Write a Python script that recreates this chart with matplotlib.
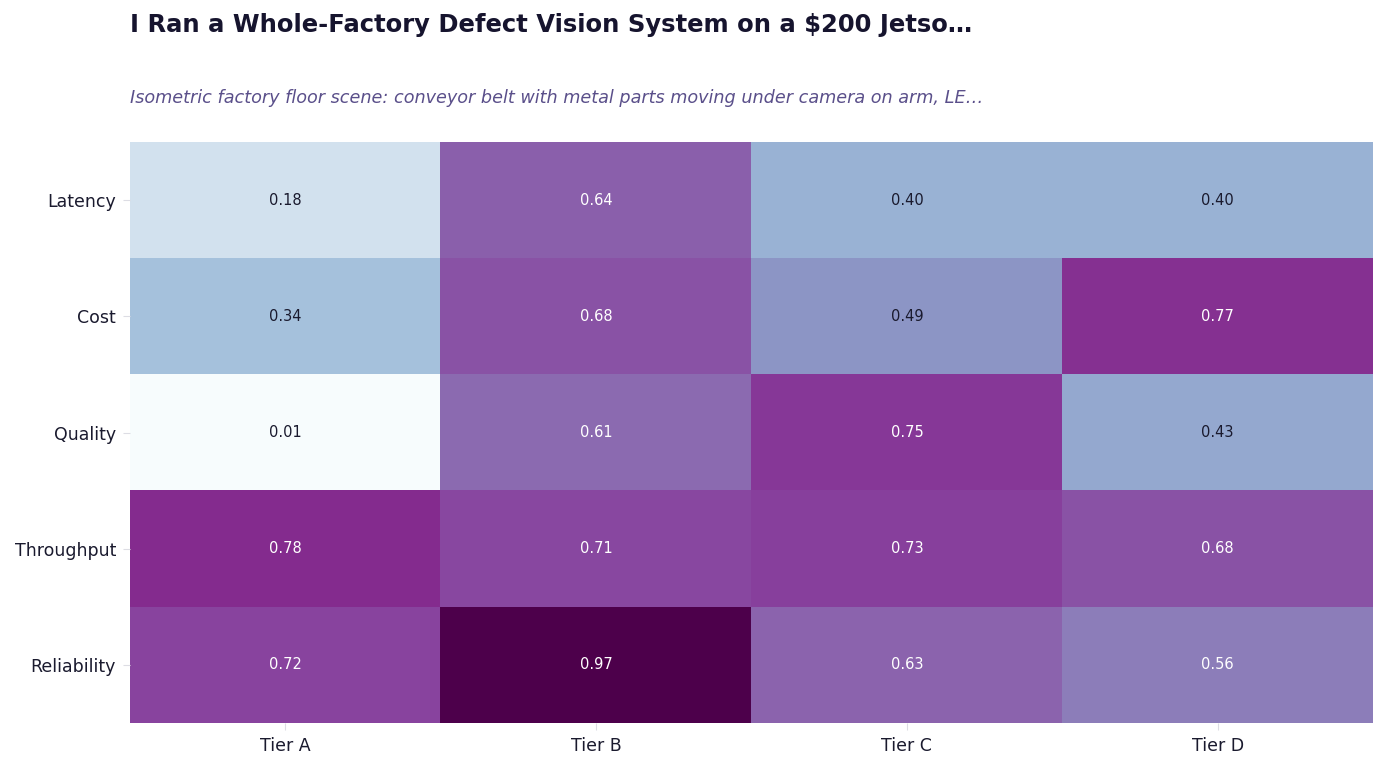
import numpy as np
import matplotlib
matplotlib.use("Agg")
import matplotlib.pyplot as plt

# data
metrics = ["Latency", "Cost", "Quality", "Throughput", "Reliability"]
tiers = ["Tier A", "Tier B", "Tier C", "Tier D"]
latency = [0.18, 0.64, 0.40, 0.40]
cost = [0.34, 0.68, 0.49, 0.77]
quality = [0.01, 0.61, 0.75, 0.43]
throughput = [0.78, 0.71, 0.73, 0.68]
reliability = [0.72, 0.97, 0.63, 0.56]

title = "I Ran a Whole-Factory Defect Vision System on a $200 Jetso\u2026"
subtitle = "Isometric factory floor scene: conveyor belt with metal parts moving under camera on arm, LE\u2026"

vals = np.array([latency, cost, quality, throughput, reliability])

fig = plt.figure(figsize=(13.86, 7.7), dpi=100)
ax = fig.add_axes([130/1386, 1 - 723/770, (1373-130)/1386, (723-142)/770])

ax.imshow(vals, cmap="BuPu", vmin=vals.min(), vmax=vals.max(), aspect="auto")

for i in range(vals.shape[0]):
    for j in range(vals.shape[1]):
        v = vals[i, j]
        c = "white" if v > 0.5 else "#1a1a2e"
        ax.text(j, i, f"{v:.2f}", ha="center", va="center", fontsize=10.5, color=c)

ax.set_xticks(range(len(tiers)))
ax.set_xticklabels(tiers)
ax.set_yticks(range(len(metrics)))
ax.set_yticklabels(metrics)
ax.tick_params(axis="both", length=5, pad=5, color="#dddde4", labelsize=12.5, labelcolor="#1a1a2e")
for s in ax.spines.values():
    s.set_visible(False)

fig.text(130/1386, 1 - 25/770, title, fontsize=17.5, fontweight="bold", color="#16142e",
         ha="left", va="center")
fig.text(130/1386, 1 - 98/770, subtitle, fontsize=12.7, style="italic", color="#5a4f8a",
         ha="left", va="center")

fig.savefig("out.png", dpi=100)
